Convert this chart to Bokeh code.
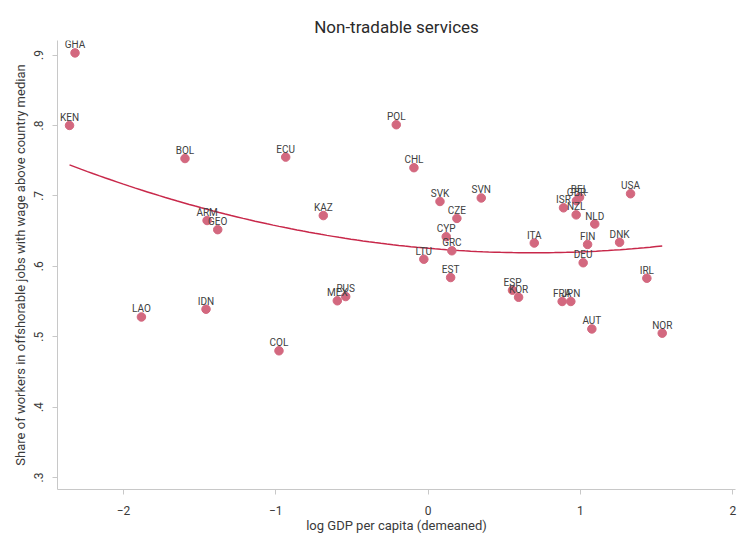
import numpy as np
from bokeh.plotting import figure
from bokeh.models import ColumnDataSource, FixedTicker, Range1d
from bokeh.core.properties import value
from bokeh.embed import file_html
from bokeh.resources import INLINE

countries = ["GHA", "KEN", "BOL", "ECU", "ARM", "GEO", "KAZ", "LAO", "IDN", "COL",
             "MEX", "RUS", "POL", "CHL", "SVK", "SVN", "CZE", "CYP", "GRC", "LTU",
             "EST", "ITA", "ESP", "KOR", "ISR", "GBR", "BEL", "NZL", "NLD", "USA",
             "FIN", "DNK", "DEU", "IRL", "FRA", "JPN", "AUT", "NOR"]
log_gdp = [-2.318, -2.354, -1.596, -0.935, -1.451, -1.381, -0.688, -1.882, -1.458, -0.979,
           -0.596, -0.541, -0.209, -0.093, 0.078, 0.349, 0.189, 0.119, 0.156, -0.028,
           0.148, 0.697, 0.554, 0.594, 0.889, 0.974, 0.994, 0.972, 1.094, 1.329,
           1.047, 1.257, 1.018, 1.436, 0.880, 0.937, 1.075, 1.537]
share = [0.903, 0.800, 0.753, 0.755, 0.665, 0.652, 0.672, 0.528, 0.539, 0.480,
         0.551, 0.557, 0.801, 0.740, 0.692, 0.697, 0.668, 0.642, 0.622, 0.610,
         0.584, 0.633, 0.566, 0.556, 0.683, 0.693, 0.698, 0.673, 0.660, 0.703,
         0.631, 0.634, 0.605, 0.583, 0.550, 0.550, 0.511, 0.505]
x_ticks = [-2, -1, 0, 1, 2]
y_ticks = [0.3, 0.4, 0.5, 0.6, 0.7, 0.8, 0.9]
y_tick_labels = [".3", ".4", ".5", ".6", ".7", ".8", ".9"]

# quadratic fit (as in the original qfit)
coef = np.polyfit(log_gdp, share, 2)
fx = np.linspace(min(log_gdp), max(log_gdp), 100)
fy = np.polyval(coef, fx)

FONT = "Roboto"
p = figure(width=737, height=538, output_backend="svg", toolbar_location=None,
           x_range=Range1d(-2.433, 2.018), y_range=Range1d(0.283, 0.9206),
           min_border_left=57, min_border_right=2, min_border_bottom=49, min_border_top=40)
p.title.text = "Non-tradable services"
p.title.align = "center"
p.title.text_font = FONT
p.title.text_font_size = "17px"
p.title.text_font_style = "normal"
p.title.text_color = "#2a2a2a"
p.title.standoff = 8
p.outline_line_color = None
p.grid.grid_line_color = None

p.line(fx, fy, line_color="#c8284a", line_width=1.5)

src = ColumnDataSource(dict(x=log_gdp, y=share, c=countries))
p.scatter("x", "y", source=src, size=8.5, fill_color="#d3687f", line_color="#d3687f")
p.text("x", "y", text="c", source=src, text_font=value(FONT), text_font_size="10px",
       text_color="#404040", text_align="center", text_baseline="alphabetic", y_offset=-8)

for ax in (p.xaxis[0], p.yaxis[0]):
    ax.axis_line_color = "#c8c8c8"
    ax.major_tick_line_color = "#c8c8c8"
    ax.minor_tick_line_color = None
    ax.major_tick_out = 5
    ax.major_tick_in = 0
    ax.major_label_text_font = FONT
    ax.major_label_text_font_size = "12px"
    ax.major_label_text_color = "#3a3a3a"
    ax.axis_label_text_font = FONT
    ax.axis_label_text_font_size = "13px"
    ax.axis_label_text_font_style = "normal"
    ax.axis_label_text_color = "#3a3a3a"

p.xaxis.ticker = FixedTicker(ticks=x_ticks)
p.xaxis.axis_label = "log GDP per capita (demeaned)"
p.xaxis.major_label_standoff = 11
p.xaxis.axis_label_standoff = 0
p.yaxis.ticker = FixedTicker(ticks=y_ticks)
p.yaxis.major_label_overrides = {t: l for t, l in zip(y_ticks, y_tick_labels)}
p.yaxis.major_label_orientation = "vertical"
p.yaxis.major_label_standoff = 9
p.yaxis.axis_label = "Share of workers in offshorable jobs with wage above country median"
p.yaxis.axis_label_standoff = 4

open("out.html", "w").write(file_html(p, INLINE))
